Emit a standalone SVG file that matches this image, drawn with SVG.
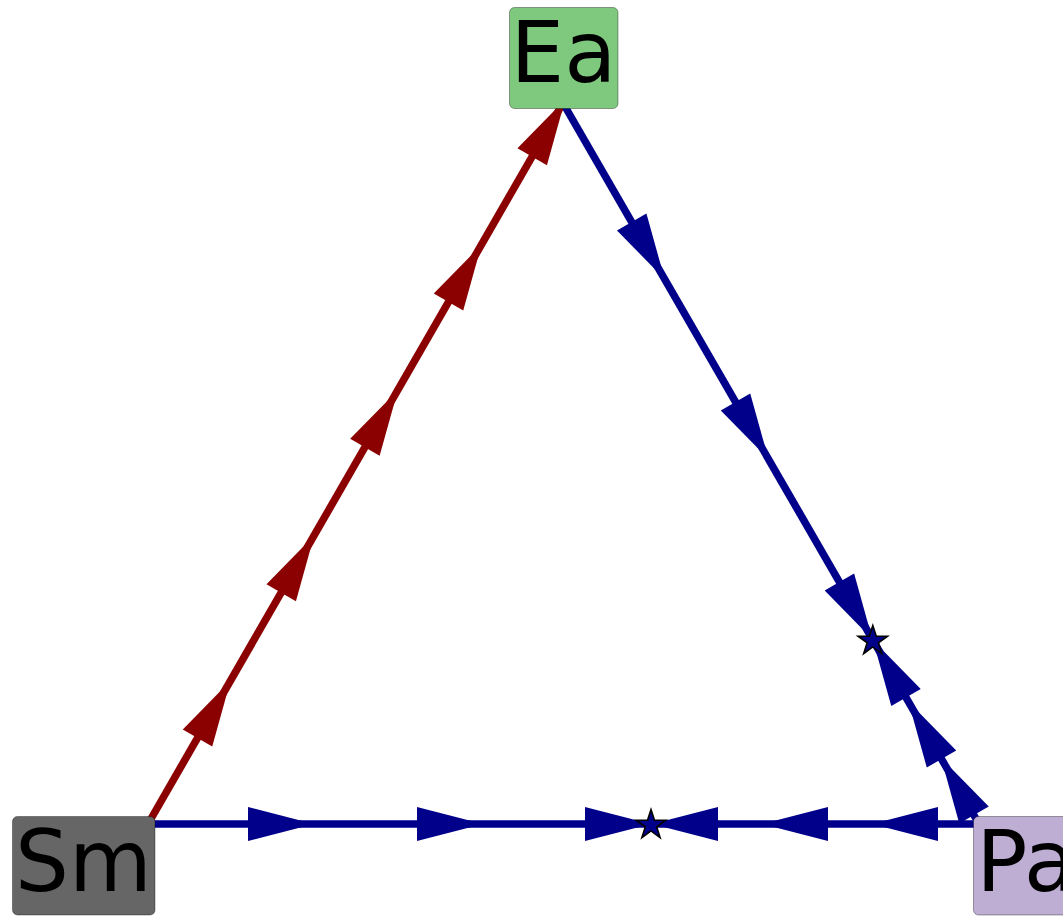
<svg xmlns="http://www.w3.org/2000/svg" width="1063" height="916" viewBox="0 0 1063 916">
<style>
.red{stroke:#8b0000;fill:none;stroke-width:7.5}
.blue{stroke:#00008b;fill:none;stroke-width:7.5}
.rh{fill:#8b0000}
.bh{fill:#00008b}
.star{fill:#00008b;stroke:#000;stroke-width:1.6;stroke-linejoin:miter}
.box{stroke:#000;stroke-opacity:0.35;stroke-width:1}
.lbl{font-family:"DejaVu Sans",sans-serif;font-size:85px;fill:#000;text-anchor:middle}
</style>
<defs>
<path id="ah" d="M0,-17 L66,0 L0,17 Z"/>
<polygon id="st" points="0,-15.5 3.48,-4.79 14.74,-4.79 5.63,1.83 9.11,12.54 0,5.92 -9.11,12.54 -5.63,1.83 -14.74,-4.79 -3.48,-4.79"/>
</defs>
<rect width="1063" height="916" fill="#fff"/>
<g id="connectors">
<line class="red" x1="148" y1="824" x2="563" y2="103"/>
<line class="blue" x1="563" y1="103" x2="979" y2="824"/>
<line class="blue" x1="148" y1="824" x2="979" y2="824"/>
<g class="rh">
<use href="#ah" transform="translate(197.5,738) rotate(-60)"/>
<use href="#ah" transform="translate(281.2,592.7) rotate(-60)"/>
<use href="#ah" transform="translate(364.9,447.3) rotate(-60)"/>
<use href="#ah" transform="translate(448.5,302) rotate(-60)"/>
<use href="#ah" transform="translate(532.2,156.7) rotate(-60)"/>
</g>
<g class="bh">
<use href="#ah" transform="translate(631.7,222) rotate(60)"/>
<use href="#ah" transform="translate(735.5,402) rotate(60)"/>
<use href="#ah" transform="translate(839.4,582) rotate(60)"/>
<use href="#ah" transform="translate(906,697.5) rotate(-120)"/>
<use href="#ah" transform="translate(941.5,759) rotate(-120)"/>
<use href="#ah" transform="translate(974,815) rotate(-120)"/>
<use href="#ah" transform="translate(248,824)"/>
<use href="#ah" transform="translate(417,824)"/>
<use href="#ah" transform="translate(585,824)"/>
<use href="#ah" transform="translate(718,824) rotate(180)"/>
<use href="#ah" transform="translate(828,824) rotate(180)"/>
<use href="#ah" transform="translate(938,824) rotate(180)"/>
</g>
<use href="#st" class="star" transform="translate(651,825)"/>
<use href="#st" class="star" transform="translate(872.8,641)"/>
</g>
<g id="node-Ea">
<rect class="box" x="509.5" y="7.5" width="108.5" height="101" rx="5" fill="#7fc97f"/>
<text class="lbl" x="563.5" y="82">Ea</text>
</g>
<g id="node-Sm">
<rect class="box" x="12.5" y="816.5" width="142.5" height="98.5" rx="5" fill="#666666"/>
<text class="lbl" x="83.5" y="891">Sm</text>
</g>
<g id="node-Pa">
<rect class="box" x="973.5" y="816.5" width="108" height="98.5" rx="5" fill="#beaed4"/>
<text class="lbl" x="1026" y="891">Pa</text>
</g>
</svg>
